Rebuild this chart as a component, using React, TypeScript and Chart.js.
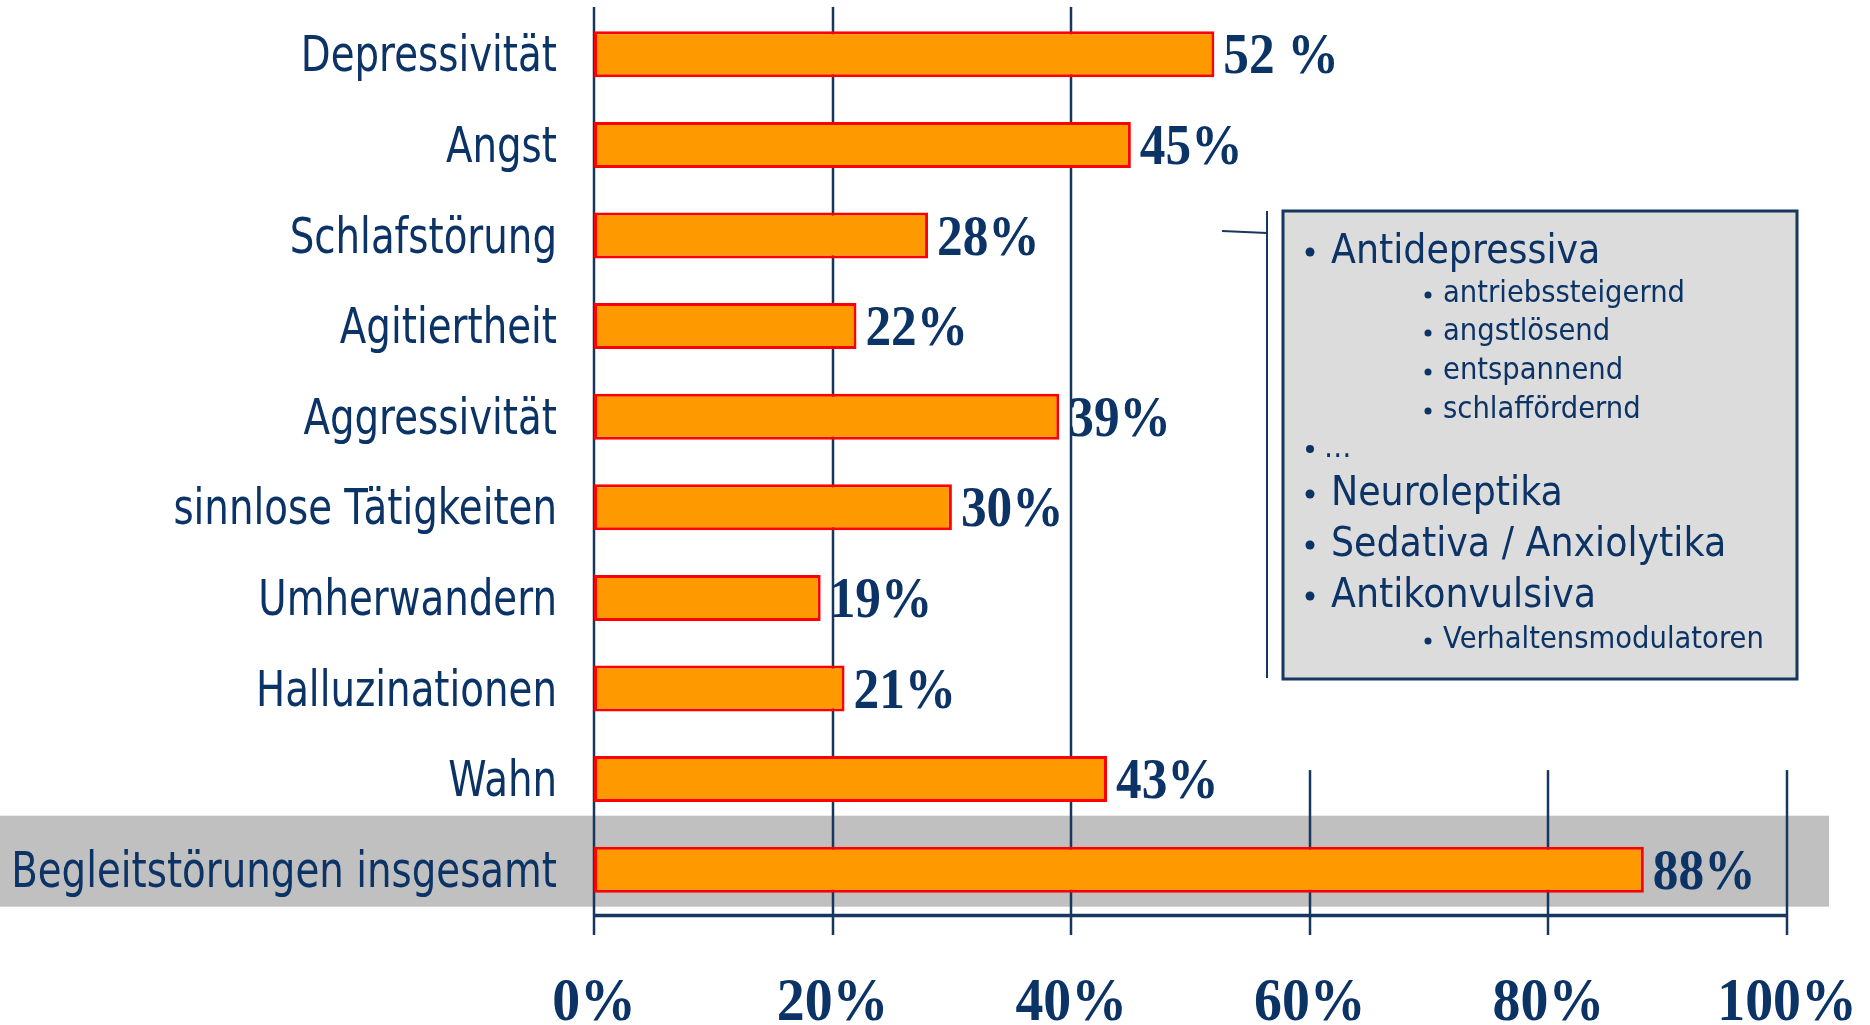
import { useEffect, useRef } from "react";
import { Chart, registerables } from "chart.js";

Chart.register(...registerables);

// ---------- data ----------
const categories = [
  "Depressivität",
  "Angst",
  "Schlafstörung",
  "Agitiertheit",
  "Aggressivität",
  "sinnlose Tätigkeiten",
  "Umherwandern",
  "Halluzinationen",
  "Wahn",
  "Begleitstörungen insgesamt",
];
const values = [52, 45, 28, 22, 39, 30, 19, 21, 43, 88];
const valueLabels = ["52 %", "45%", "28%", "22%", "39%", "30%", "19%", "21%", "43%", "88%"];
const xTicks = [0, 20, 40, 60, 80, 100];
const xTickLabels = ["0%", "20%", "40%", "60%", "80%", "100%"];
const highlightedCategory = "Begleitstörungen insgesamt";

const legendTexts = [
  "Antidepressiva",
  "antriebssteigernd",
  "angstlösend",
  "entspannend",
  "schlaffördernd",
  "…",
  "Neuroleptika",
  "Sedativa / Anxiolytika",
  "Antikonvulsiva",
  "Verhaltensmodulatoren",
];
// 0 = main item (large), 1 = sub item (small, indented), 2 = main item in small type
const legendLevels = [0, 1, 1, 1, 1, 2, 0, 0, 0, 1];

// ---------- style ----------
const NAVY = "#0b3366";
const LINE = "#17375f";
const SANS = "'DejaVu Sans', Verdana, sans-serif";
const SERIF = "'Liberation Serif', 'Times New Roman', serif";

function drawText(
  ctx: CanvasRenderingContext2D,
  text: string,
  x: number,
  y: number,
  font: string,
  align: CanvasTextAlign,
  sx: number,
  color: string
) {
  ctx.save();
  ctx.font = font;
  ctx.fillStyle = color;
  ctx.textAlign = align;
  ctx.textBaseline = "alphabetic";
  ctx.translate(x, y);
  ctx.scale(sx, 1);
  ctx.fillText(text, 0, 0);
  ctx.restore();
}

function line(ctx: CanvasRenderingContext2D, x1: number, y1: number, x2: number, y2: number) {
  ctx.beginPath();
  ctx.moveTo(x1, y1);
  ctx.lineTo(x2, y2);
  ctx.stroke();
}

const decoPlugin = {
  id: "deco",
  beforeDatasetsDraw(chart: any) {
    const { ctx } = chart;
    const x = chart.scales.x;
    const y = chart.scales.y;
    ctx.save();
    // highlight band
    const hi = categories.indexOf(highlightedCategory);
    const cy = y.getPixelForValue(hi);
    ctx.fillStyle = "#c0c0c0";
    ctx.fillRect(0, cy - 54, 1829, 91);
    // grid lines
    ctx.strokeStyle = LINE;
    ctx.lineWidth = 2.5;
    const partialTop = y.getPixelForValue(categories.length - 2) - 9;
    xTicks.forEach((v) => {
      const px = Math.round(x.getPixelForValue(v));
      const top = v <= 40 ? 7 : partialTop;
      line(ctx, px, top, px, 935);
    });
    // x axis line
    ctx.lineWidth = 3.5;
    line(ctx, x.getPixelForValue(0), 915.5, x.getPixelForValue(100), 915.5);
    ctx.restore();
  },
  afterDatasetsDraw(chart: any) {
    const { ctx } = chart;
    const x = chart.scales.x;
    const y = chart.scales.y;

    // category labels
    categories.forEach((c, i) => {
      const cy = y.getPixelForValue(i);
      drawText(ctx, c, 557, cy + 17, `50px ${SANS}`, "right", 0.775, NAVY);
    });

    // value labels
    values.forEach((v, i) => {
      const cy = y.getPixelForValue(i);
      const px = x.getPixelForValue(v);
      drawText(ctx, valueLabels[i], px + 9, cy + 19, `bold 57px ${SERIF}`, "left", 0.9, NAVY);
    });

    // x tick labels
    xTicks.forEach((v, i) => {
      const px = x.getPixelForValue(v);
      drawText(ctx, xTickLabels[i], px, 1020, `bold 62px ${SERIF}`, "center", 0.9, NAVY);
    });

    // callout box
    ctx.save();
    ctx.strokeStyle = LINE;
    ctx.lineWidth = 2;
    line(ctx, 1222, 231, 1267, 233);
    line(ctx, 1267, 211, 1267, 678);
    ctx.fillStyle = "#dcdcdc";
    ctx.fillRect(1283, 211, 514, 468);
    ctx.lineWidth = 3;
    ctx.strokeRect(1283, 211, 514, 468);
    ctx.restore();

    const baselines = [263, 302, 340, 379, 418, 457, 505, 556, 607, 648];
    legendTexts.forEach((t, i) => {
      const lvl = legendLevels[i];
      const by = baselines[i];
      ctx.save();
      ctx.fillStyle = NAVY;
      ctx.beginPath();
      if (lvl === 0) {
        ctx.arc(1310, by - 11, 4.5, 0, Math.PI * 2);
      } else if (lvl === 2) {
        ctx.arc(1310, by - 8, 4, 0, Math.PI * 2);
      } else {
        ctx.arc(1428, by - 7, 3.5, 0, Math.PI * 2);
      }
      ctx.fill();
      ctx.restore();
      if (lvl === 0) {
        drawText(ctx, t, 1331, by, `40px ${SANS}`, "left", 0.91, NAVY);
      } else if (lvl === 2) {
        drawText(ctx, t, 1324, by, `30px ${SANS}`, "left", 0.915, NAVY);
      } else {
        drawText(ctx, t, 1443, by, `30px ${SANS}`, "left", 0.915, NAVY);
      }
    });
  },
};

export default function App() {
  const ref = useRef<HTMLCanvasElement | null>(null);

  useEffect(() => {
    if (!ref.current) return;
    const chart = new Chart(ref.current, {
      type: "bar",
      data: {
        labels: categories,
        datasets: [
          {
            data: values,
            backgroundColor: "#ff9900",
            borderColor: "#ff0000",
            borderWidth: 3,
            borderSkipped: false,
            barPercentage: 0.508,
            categoryPercentage: 1,
          },
        ],
      },
      options: {
        indexAxis: "y",
        responsive: false,
        animation: false,
        devicePixelRatio: 1,
        layout: { padding: { left: 594, right: 83, top: 9, bottom: 110 } },
        plugins: { legend: { display: false }, tooltip: { enabled: false } },
        scales: {
          x: { type: "linear", min: 0, max: 100, display: false },
          y: { type: "category", display: false, offset: true },
        },
      },
      plugins: [decoPlugin],
    });
    return () => chart.destroy();
  }, []);

  return (
    <div style={{ position: "fixed", left: 0, top: 0, width: 1870, height: 1025, background: "#fff" }}>
      <canvas ref={ref} width={1870} height={1025} style={{ display: "block" }} />
    </div>
  );
}
